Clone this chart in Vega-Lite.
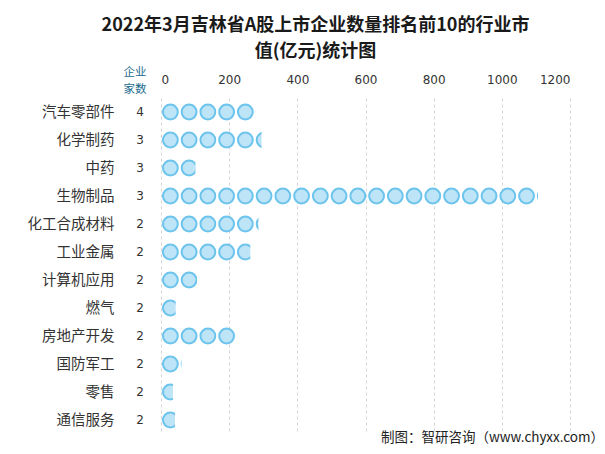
{
  "$schema": "https://vega.github.io/schema/vega-lite/v6.json",
  "padding": {"left": 27, "top": 16, "right": 5, "bottom": 5},
  "background": "white",
  "bounds": "flush",
  "spacing": 11,
  "title": {
    "text": ["2022年3月吉林省A股上市企业数量排名前10的行业市", "值(亿元)统计图"],
    "anchor": "middle",
    "fontSize": 18,
    "fontWeight": "bold",
    "font": "Noto Sans CJK SC",
    "color": "#1a1a1a",
    "lineHeight": 26,
    "offset": 6
  },
  "data": {
    "values": [
      {"industry": "汽车零部件", "count": 4, "value": 276},
      {"industry": "化学制药", "count": 3, "value": 295},
      {"industry": "中药", "count": 3, "value": 101},
      {"industry": "生物制品", "count": 3, "value": 1106},
      {"industry": "化工合成材料", "count": 2, "value": 286},
      {"industry": "工业金属", "count": 2, "value": 262},
      {"industry": "计算机应用", "count": 2, "value": 106},
      {"industry": "燃气", "count": 2, "value": 43},
      {"industry": "房地产开发", "count": 2, "value": 220},
      {"industry": "国防军工", "count": 2, "value": 60},
      {"industry": "零售", "count": 2, "value": 35},
      {"industry": "通信服务", "count": 2, "value": 41}
    ]
  },
  "hconcat": [
    {
      "width": 20,
      "height": 336,
      "title": {"text": ["企业", "家数"], "orient": "top", "anchor": "middle", "color": "#1B6B8E", "fontSize": 11.5, "fontWeight": "normal", "font": "Noto Sans CJK SC", "lineHeight": 17, "offset": 3, "dx": -5},
      "mark": {"type": "text", "font": "DejaVu Sans", "fontSize": 12, "color": "#333333"},
      "encoding": {
        "y": {"field": "industry", "type": "nominal", "sort": null,
          "axis": {"orient": "left", "title": null, "ticks": false, "domain": false, "labelPadding": 16, "labelFont": "Noto Sans CJK SC", "labelFontSize": 14.5, "labelColor": "#333333", "labelLimit": 200}},
        "text": {"field": "count", "type": "quantitative"}
      }
    },
    {
      "width": 409,
      "height": 336,
      "title": {"text": "制图：智研咨询（www.chyxx.com）", "orient": "bottom", "anchor": "end", "color": "#222222", "fontSize": 13.5, "fontWeight": "normal", "font": "Noto Sans CJK SC", "offset": -3, "dx": 34},
      "encoding": {
        "y": {"field": "industry", "type": "nominal", "sort": null, "axis": null}
      },
      "layer": [
        {"transform": [{"filter": "datum.value > 0"}], "mark": {"type": "point", "shape": "circle", "filled": true, "fill": "#BEE4F8", "stroke": "#6CC4EC", "strokeWidth": 2, "size": 220, "opacity": 1},
         "encoding": {"x": {"datum": 27.5, "type": "quantitative", "scale": {"domain": [0, 1200]},
           "axis": {"orient": "top", "title": null, "format": "d", "values": [0, 200, 400, 600, 800, 1000, 1200], "grid": true, "gridDash": [3, 3], "gridColor": "#d4d4d4", "domain": false, "ticks": false, "labelPadding": 12, "labelFont": "DejaVu Sans", "labelFontSize": 12, "labelColor": "#333333"}}}},
        {"transform": [{"filter": "datum.value > 55"}], "mark": {"type": "point", "shape": "circle", "filled": true, "fill": "#BEE4F8", "stroke": "#6CC4EC", "strokeWidth": 2, "size": 220, "opacity": 1}, "encoding": {"x": {"datum": 82.5, "type": "quantitative"}}},
        {"transform": [{"filter": "datum.value > 110"}], "mark": {"type": "point", "shape": "circle", "filled": true, "fill": "#BEE4F8", "stroke": "#6CC4EC", "strokeWidth": 2, "size": 220, "opacity": 1}, "encoding": {"x": {"datum": 137.5, "type": "quantitative"}}},
        {"transform": [{"filter": "datum.value > 165"}], "mark": {"type": "point", "shape": "circle", "filled": true, "fill": "#BEE4F8", "stroke": "#6CC4EC", "strokeWidth": 2, "size": 220, "opacity": 1}, "encoding": {"x": {"datum": 192.5, "type": "quantitative"}}},
        {"transform": [{"filter": "datum.value > 220"}], "mark": {"type": "point", "shape": "circle", "filled": true, "fill": "#BEE4F8", "stroke": "#6CC4EC", "strokeWidth": 2, "size": 220, "opacity": 1}, "encoding": {"x": {"datum": 247.5, "type": "quantitative"}}},
        {"transform": [{"filter": "datum.value > 275"}], "mark": {"type": "point", "shape": "circle", "filled": true, "fill": "#BEE4F8", "stroke": "#6CC4EC", "strokeWidth": 2, "size": 220, "opacity": 1}, "encoding": {"x": {"datum": 302.5, "type": "quantitative"}}},
        {"transform": [{"filter": "datum.value > 330"}], "mark": {"type": "point", "shape": "circle", "filled": true, "fill": "#BEE4F8", "stroke": "#6CC4EC", "strokeWidth": 2, "size": 220, "opacity": 1}, "encoding": {"x": {"datum": 357.5, "type": "quantitative"}}},
        {"transform": [{"filter": "datum.value > 385"}], "mark": {"type": "point", "shape": "circle", "filled": true, "fill": "#BEE4F8", "stroke": "#6CC4EC", "strokeWidth": 2, "size": 220, "opacity": 1}, "encoding": {"x": {"datum": 412.5, "type": "quantitative"}}},
        {"transform": [{"filter": "datum.value > 440"}], "mark": {"type": "point", "shape": "circle", "filled": true, "fill": "#BEE4F8", "stroke": "#6CC4EC", "strokeWidth": 2, "size": 220, "opacity": 1}, "encoding": {"x": {"datum": 467.5, "type": "quantitative"}}},
        {"transform": [{"filter": "datum.value > 495"}], "mark": {"type": "point", "shape": "circle", "filled": true, "fill": "#BEE4F8", "stroke": "#6CC4EC", "strokeWidth": 2, "size": 220, "opacity": 1}, "encoding": {"x": {"datum": 522.5, "type": "quantitative"}}},
        {"transform": [{"filter": "datum.value > 550"}], "mark": {"type": "point", "shape": "circle", "filled": true, "fill": "#BEE4F8", "stroke": "#6CC4EC", "strokeWidth": 2, "size": 220, "opacity": 1}, "encoding": {"x": {"datum": 577.5, "type": "quantitative"}}},
        {"transform": [{"filter": "datum.value > 605"}], "mark": {"type": "point", "shape": "circle", "filled": true, "fill": "#BEE4F8", "stroke": "#6CC4EC", "strokeWidth": 2, "size": 220, "opacity": 1}, "encoding": {"x": {"datum": 632.5, "type": "quantitative"}}},
        {"transform": [{"filter": "datum.value > 660"}], "mark": {"type": "point", "shape": "circle", "filled": true, "fill": "#BEE4F8", "stroke": "#6CC4EC", "strokeWidth": 2, "size": 220, "opacity": 1}, "encoding": {"x": {"datum": 687.5, "type": "quantitative"}}},
        {"transform": [{"filter": "datum.value > 715"}], "mark": {"type": "point", "shape": "circle", "filled": true, "fill": "#BEE4F8", "stroke": "#6CC4EC", "strokeWidth": 2, "size": 220, "opacity": 1}, "encoding": {"x": {"datum": 742.5, "type": "quantitative"}}},
        {"transform": [{"filter": "datum.value > 770"}], "mark": {"type": "point", "shape": "circle", "filled": true, "fill": "#BEE4F8", "stroke": "#6CC4EC", "strokeWidth": 2, "size": 220, "opacity": 1}, "encoding": {"x": {"datum": 797.5, "type": "quantitative"}}},
        {"transform": [{"filter": "datum.value > 825"}], "mark": {"type": "point", "shape": "circle", "filled": true, "fill": "#BEE4F8", "stroke": "#6CC4EC", "strokeWidth": 2, "size": 220, "opacity": 1}, "encoding": {"x": {"datum": 852.5, "type": "quantitative"}}},
        {"transform": [{"filter": "datum.value > 880"}], "mark": {"type": "point", "shape": "circle", "filled": true, "fill": "#BEE4F8", "stroke": "#6CC4EC", "strokeWidth": 2, "size": 220, "opacity": 1}, "encoding": {"x": {"datum": 907.5, "type": "quantitative"}}},
        {"transform": [{"filter": "datum.value > 935"}], "mark": {"type": "point", "shape": "circle", "filled": true, "fill": "#BEE4F8", "stroke": "#6CC4EC", "strokeWidth": 2, "size": 220, "opacity": 1}, "encoding": {"x": {"datum": 962.5, "type": "quantitative"}}},
        {"transform": [{"filter": "datum.value > 990"}], "mark": {"type": "point", "shape": "circle", "filled": true, "fill": "#BEE4F8", "stroke": "#6CC4EC", "strokeWidth": 2, "size": 220, "opacity": 1}, "encoding": {"x": {"datum": 1017.5, "type": "quantitative"}}},
        {"transform": [{"filter": "datum.value > 1045"}], "mark": {"type": "point", "shape": "circle", "filled": true, "fill": "#BEE4F8", "stroke": "#6CC4EC", "strokeWidth": 2, "size": 220, "opacity": 1}, "encoding": {"x": {"datum": 1072.5, "type": "quantitative"}}},
        {"transform": [{"filter": "datum.value > 1100"}], "mark": {"type": "point", "shape": "circle", "filled": true, "fill": "#BEE4F8", "stroke": "#6CC4EC", "strokeWidth": 2, "size": 220, "opacity": 1}, "encoding": {"x": {"datum": 1127.5, "type": "quantitative"}}},
        {"mark": {"type": "point", "shape": "M0,-1L2,-1L2,1L0,1Z", "filled": true, "fill": "white", "stroke": null, "strokeWidth": 0, "size": 484, "opacity": 1},
         "encoding": {"x": {"field": "value", "type": "quantitative"}}}
      ]
    }
  ],
  "config": {"view": {"stroke": null}}
}
